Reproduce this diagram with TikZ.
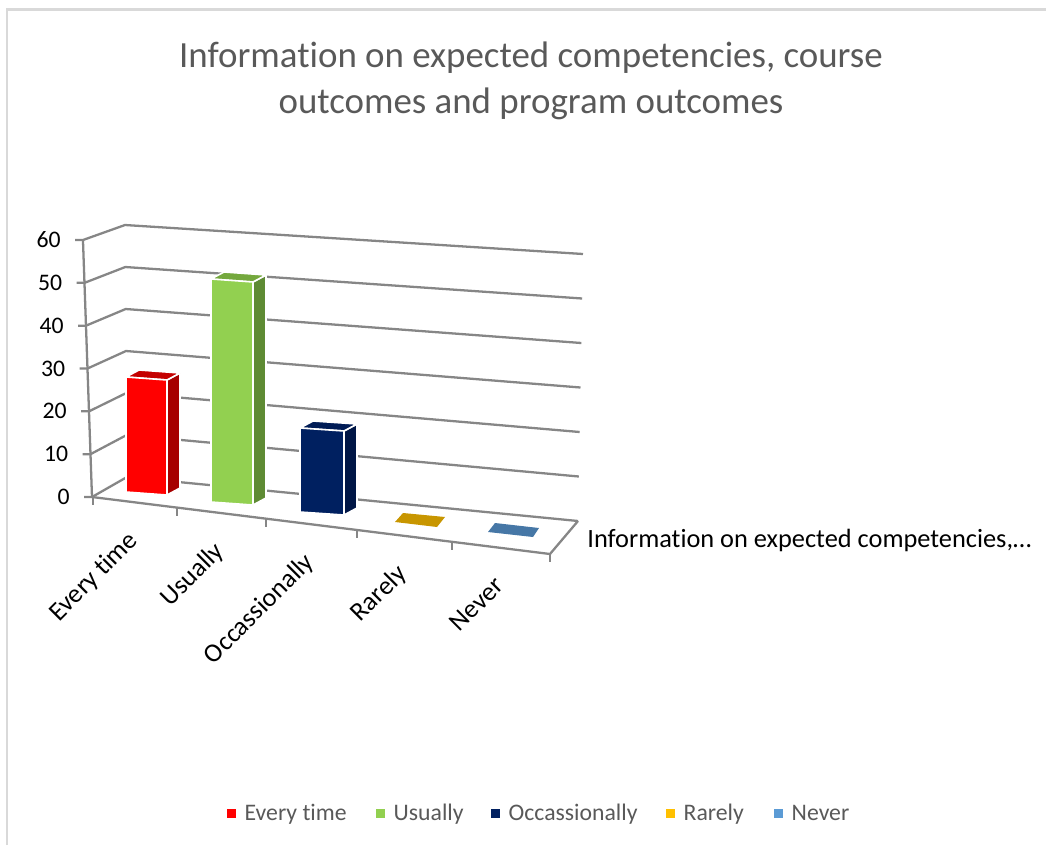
\documentclass[tikz,border=0pt]{standalone}
\usepackage{fontspec}
\setmainfont{Carlito}[Ligatures=NoCommon]
\usetikzlibrary{positioning}

\definecolor{gridgray}{HTML}{868686}
\definecolor{framegray}{HTML}{D9D9D9}
\definecolor{textgray}{HTML}{595959}
\definecolor{everyfront}{HTML}{FF0000}
\definecolor{everyside}{HTML}{A60000}
\definecolor{everytop}{HTML}{C40000}
\definecolor{usuallyfront}{HTML}{92D050}
\definecolor{usuallyside}{HTML}{5E8B34}
\definecolor{usuallytop}{HTML}{74A83D}
\definecolor{occasfront}{HTML}{002060}
\definecolor{occasside}{HTML}{001646}
\definecolor{occastop}{HTML}{001C56}
\definecolor{rarelyfloor}{HTML}{C89600}
\definecolor{neverfloor}{HTML}{4677A6}
\definecolor{legred}{HTML}{FF0000}
\definecolor{leggreen}{HTML}{92D050}
\definecolor{legnavy}{HTML}{002060}
\definecolor{leggold}{HTML}{FFC000}
\definecolor{legblue}{HTML}{5B9BD5}

\newcommand{\drawbar}[5]{%
  \filldraw[barface,fill=#5side] ({#1+#3},{#2+3}) -- ({#1+#3},{#2+3-#4}) -- ++(13,-7) -- ({#1+#3+13},{#2-4}) -- cycle;
  \filldraw[barface,fill=#5top] (#1,{#2-#4}) -- ({#1+#3},{#2+3-#4}) -- ++(13,-7) -- ({#1+13},{#2-#4-7}) -- cycle;
  \filldraw[barface,fill=#5front] (#1,#2) -- ({#1+#3},{#2+3}) -- ({#1+#3},{#2+3-#4}) -- (#1,{#2-#4}) -- cycle;
}

\begin{document}
\begin{tikzpicture}[x=0.2mm,y=-0.2mm,
    gridline/.style={draw=gridgray,line width=1.3pt,line join=round},
    barface/.style={draw=white,line width=0.9pt,line join=round},
    valuelabel/.style={anchor=east,inner sep=0pt,font=\fontsize{13.5}{16}\selectfont},
    catlabel/.style={anchor=east,rotate=45,inner sep=0pt,text height=10pt,text depth=3pt,font=\fontsize{15}{18}\selectfont},
    legbox/.style={inner sep=0pt,minimum size=1.8mm},
    legtext/.style={anchor=west,inner sep=0pt,text height=8.7pt,text depth=0pt,text=textgray,font=\fontsize{13.5}{16}\selectfont}]
  \useasboundingbox (0,0) rectangle (1046,845);
  \draw[framegray,line width=1.2pt] (7,845) -- (7,9.5) -- (1046,9.5);
  \node[font=\fontsize{21}{26}\selectfont,text=textgray,align=center] (title) at (531,81)
    {Information on expected competencies, course\\outcomes and program outcomes};

  \foreach \v in {0,10,...,60}{
    \draw[gridline] ({84-\v/60*9},{497-\v/60*257}) -- ({92-\v/60*9},{497-\v/60*257})
      -- ({127-\v/60*2},{477-\v/60*252}) -- ({578+\v/60*5},{521-\v/60*267});
    \node[valuelabel] (val\v) at ({70-\v/60*9},{497-\v/60*257}) {\v};
  }
  \draw[gridline] (83,241) -- (92,497) -- (550,554) -- (578,521);
  \foreach \x in {93,177,266,357,452,550}
    \draw[gridline] (\x,{497+(\x-92)/458*57}) -- ++(0,8);

  \drawbar{126}{492}{41}{115}{every}
  \drawbar{211}{502}{42}{223}{usually}
  \drawbar{300}{512}{44}{84}{occas}
  \fill[rarelyfloor] (395,522) -- (403,513) -- (445,517) -- (437,527) -- cycle;
  \fill[neverfloor] (488,532) -- (495,523) -- (539,528) -- (533,537) -- cycle;

  \foreach \x/\t [count=\i] in {135/Every time,221/Usually,311/Occassionally,404/Rarely,501/Never}
    \node[catlabel] (cat\i) at (\x,{497+(\x-92)/458*57+35}) {\t};
  \node[anchor=base west,inner sep=0pt,font=\fontsize{15}{18}\selectfont] (series) at (587,547)
    {Information on expected competencies,…};

  \foreach \x/\c/\t [count=\i] in {231.5/legred/Every time,380.5/leggreen/Usually,495.5/legnavy/Occassionally,670.5/leggold/Rarely,778.5/legblue/Never}{
    \node[legbox,fill=\c] (key\i) at (\x,813) {};
    \node[legtext,right=1.6mm of key\i] (leg\i) {\t};
  }
\end{tikzpicture}
\end{document}
